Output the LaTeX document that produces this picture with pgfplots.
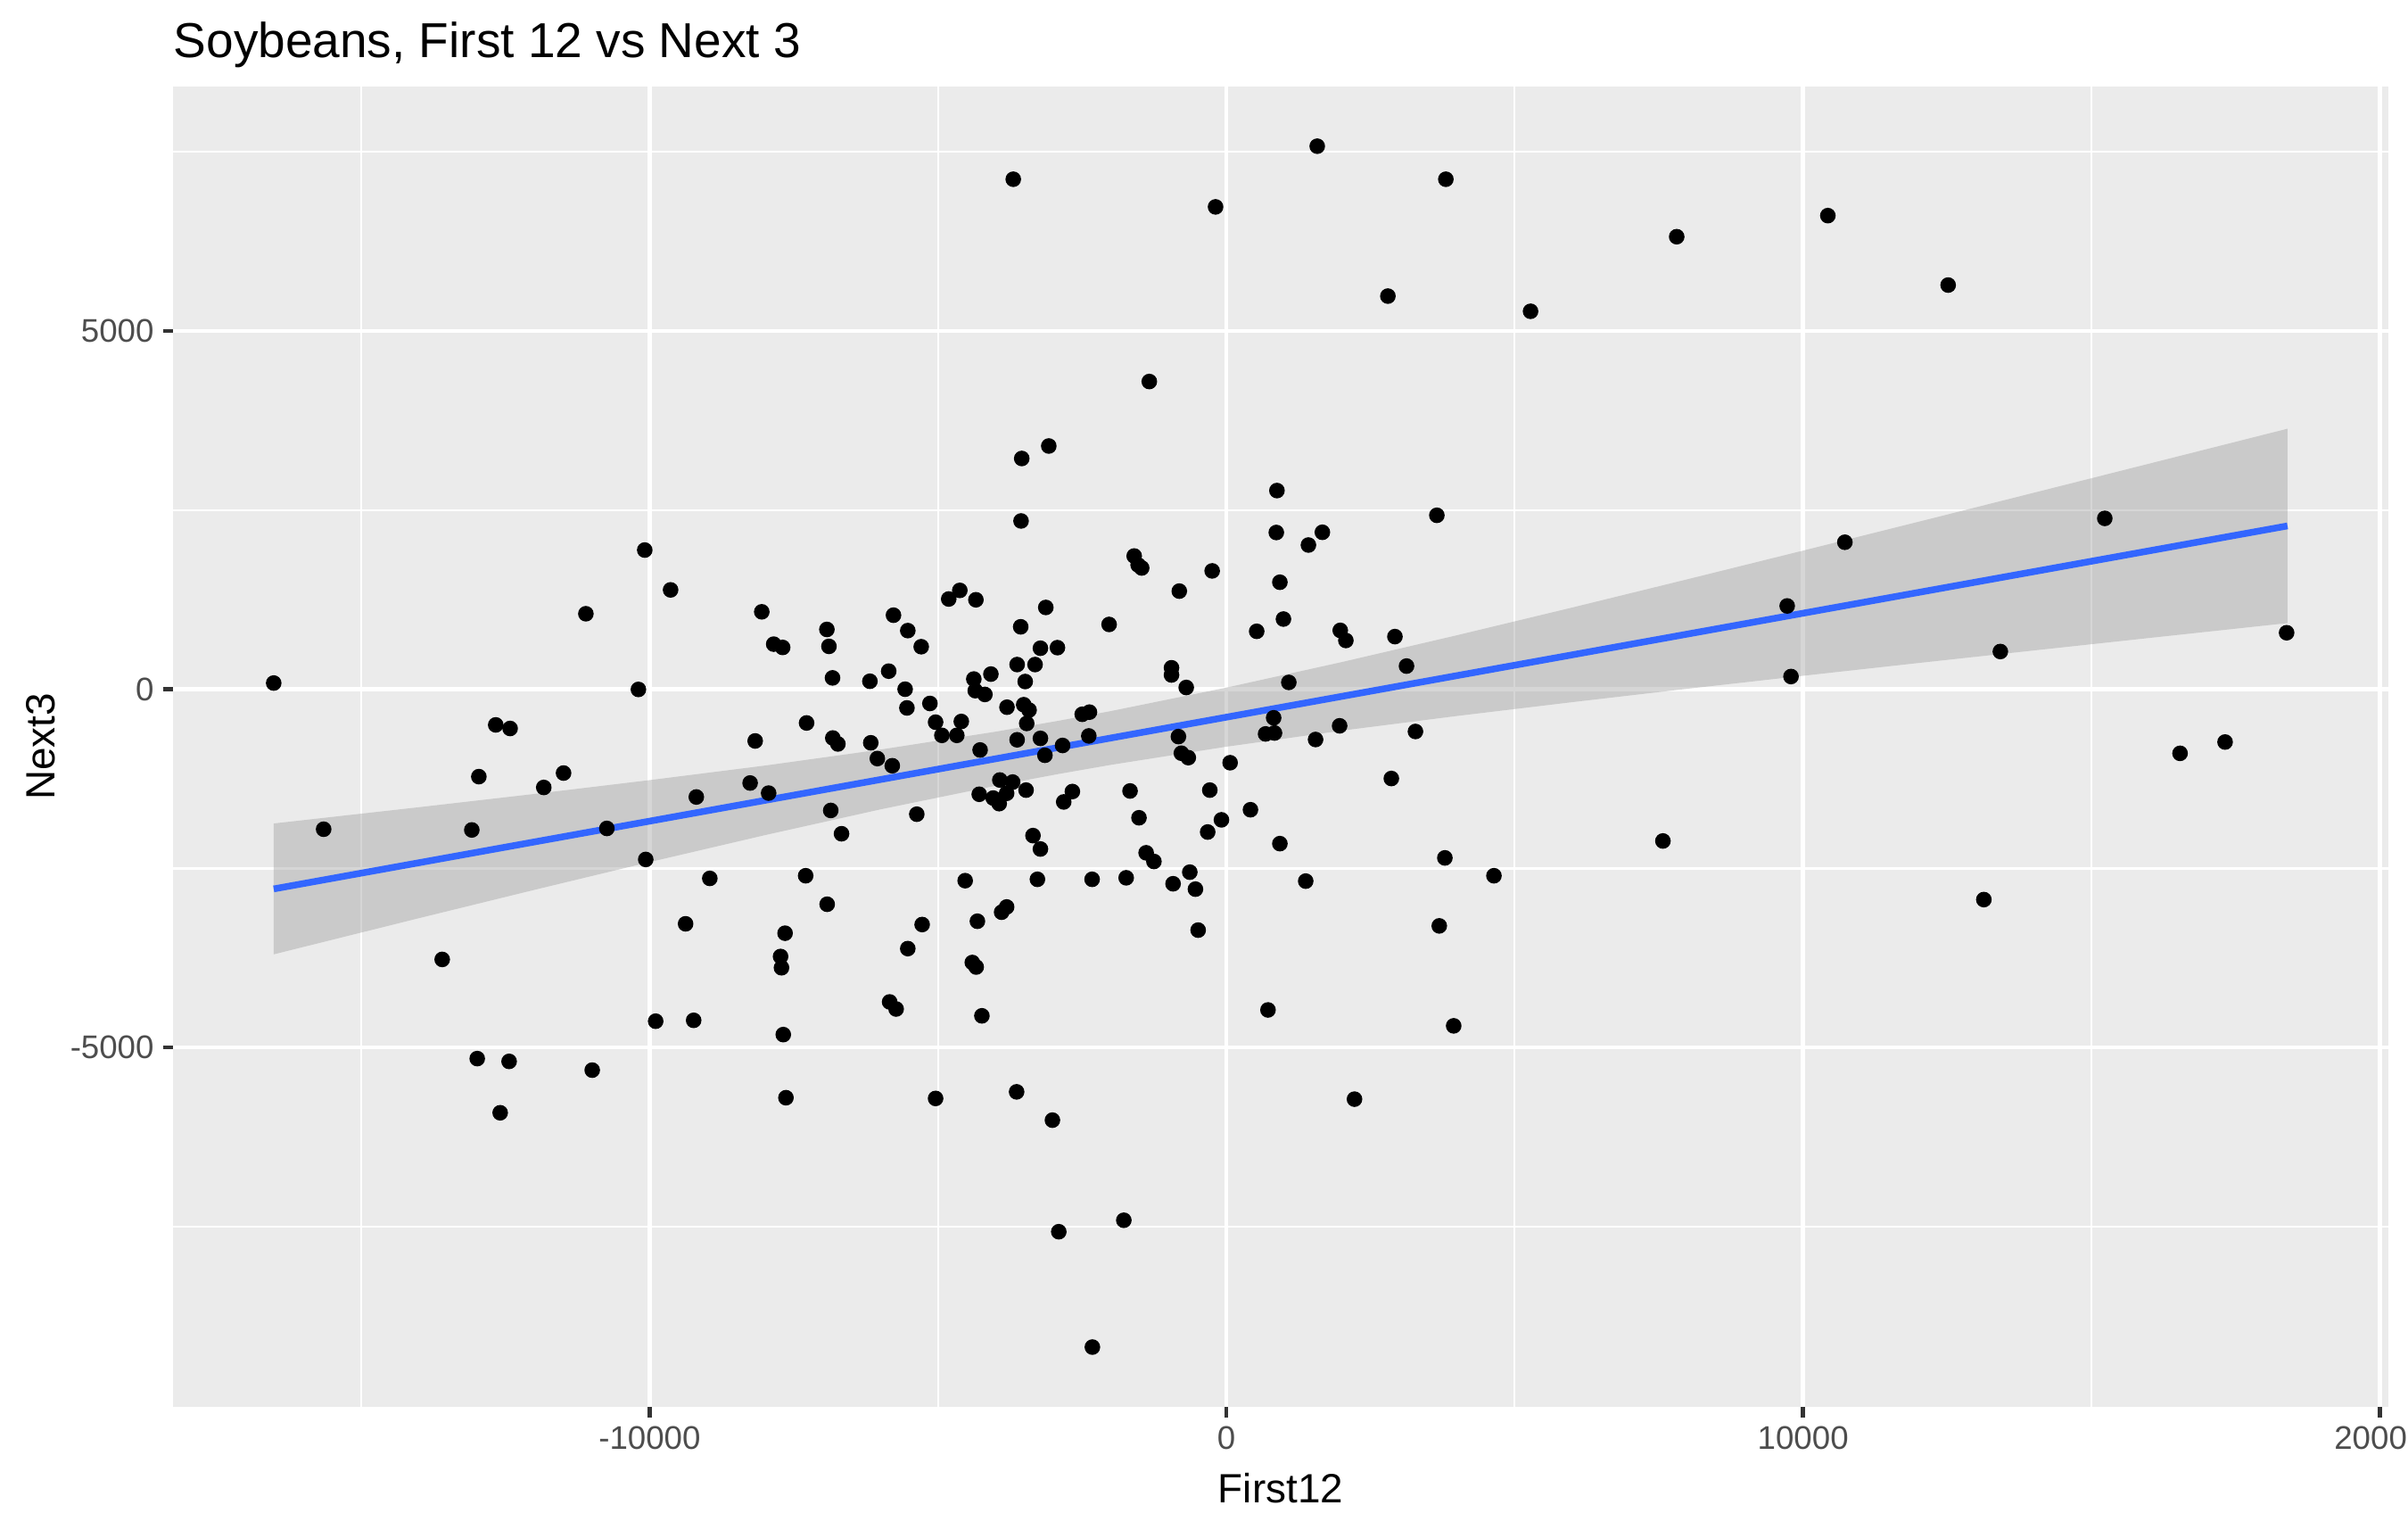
\documentclass[border=0pt]{standalone}
\usepackage{fontspec}
\setmainfont{Liberation Sans}
\usepackage{pgfplots}
\pgfplotsset{compat=1.18}
\pgfplotsset{every axis title shift=0pt}
\definecolor{ggbg}{HTML}{EBEBEB}
\definecolor{tickc}{HTML}{333333}
\definecolor{ticklab}{HTML}{4D4D4D}
\definecolor{ggblue}{HTML}{3366FF}
\definecolor{bandc}{HTML}{999999}
\begin{document}
\begin{tikzpicture}
\begin{axis}[
  scale only axis, width=596.16pt, height=355.37pt,
  at={(0pt,0pt)}, anchor=south west,
  xmin=-18265, xmax=20150, ymin=-10018, ymax=8417,
  axis background/.style={fill=ggbg},
  axis line style={draw=none},
  scaled ticks=false,
  xtick={-10000,0,10000,20000}, xticklabels={-10000,0,10000,20000},
  ytick={-5000,0,5000}, yticklabels={-5000,0,5000},
  minor xtick={-15000,-5000,5000,15000},
  minor ytick={-7500,-2500,2500,7500},
  grid=both,
  major grid style={draw=white, line width=1.07pt},
  minor grid style={draw=white, line width=0.53pt},
  tick align=outside, xtick pos=bottom, ytick pos=left,
  major tick length=2.75pt, minor tick length=0pt,
  tick style={draw=tickc, line width=1.07pt},
  ticklabel style={font=\fontsize{8.8}{10}\selectfont, text=ticklab, inner sep=0pt},
  xticklabel style={anchor=north, yshift=-2.2pt},
  yticklabel style={anchor=east, xshift=-2.2pt},
  title={Soybeans, First 12 vs Next 3},
  title style={at={(axis description cs:0,1.0214)}, anchor=base west, inner sep=0pt, font=\fontsize{13.2}{15}\selectfont},
  xlabel={First12}, ylabel={Next3},
  xlabel style={at={(axis description cs:0.5,-0.0491)}, anchor=north, inner sep=0pt, font=\fontsize{11}{13}\selectfont},
  ylabel style={at={(axis description cs:-0.0532,0.5)}, anchor=base, inner sep=0pt, font=\fontsize{11}{13}\selectfont},
]
% points
\addplot[only marks, mark=*, mark size=1.9pt, mark options={fill=black, draw=none}] coordinates {
(-16519,87) (-15653,-1953) (-13597,-3770) (-13084,-1963) (-12962,-1219) (-12990,-5154)
(-12669,-497) (-12420,-547) (-12592,-5910) (-12437,-5193) (-11836,-1370) (-11493,-1169)
(-11106,1054) (-10996,-5315) (-10742,-1942) (-10195,-2) (-10085,1943) (-10068,-2375)
(-9896,-4632) (-9637,1387)
(-9191,-1503) (-9237,-4620) (-9377,-3273) (-8957,-2639) (-8258,-1308) (-8170,-721)
(-8056,1081) (-7937,-1449) (-7849,630) (-7694,584) (-7652,-3404) (-7730,-3729)
(-7714,-3886) (-7683,-4819) (-7637,-5700) (-7295,-2602) (-7279,-470) (-6927,835)
(-6891,599) (-6829,159) (-6824,-680) (-6736,-763) (-6860,-1691) (-6922,-3000)
(-6673,-2016) (-6181,112) (-6166,-747) (-6052,-967) (-5855,253) (-5772,1034)
(-5839,-4363) (-5726,-4462) (-5793,-1067) (-5570,1) (-5539,-260) (-5524,819)
(-5524,-3619) (-5368,-1743) (-5291,594) (-5275,-3283) (-5140,-198) (-5042,-459)
(-5042,-5710) (-4933,-643) (-4674,-643) (-4596,-449) (-4814,1260) (-4622,1380)
(-4529,-2671) (-4343,1249) (-4379,143) (-4354,-19) (-4405,-3813) (-4338,-3876)
(-4317,-3237) (-4285,-1465) (-4270,-847) (-4239,-4557) (-4187,-72) (-4083,212)
(-4043,-1518) (-3939,-1596) (-3928,-1266) (-3897,-3111) (-3810,-3038) (-3804,-250)
(-1598,1860) (-1530,1735) (-1468,1693) (-246,1652) (-816,1370) (-2033,905)
(-3131,1142) (-3566,872) (-3224,573) (-2929,581) (-3628,345) (-3317,345)
(-3488,108) (-951,300) (-951,200) (-696,25) (-3514,-215) (-3421,-290)
(-3462,-477) (-2499,-349) (-2374,-319) (-2385,-651) (-3628,-705) (-3224,-685)
(-2840,-784) (-3146,-921) (-831,-660) (-780,-892) (-660,-954) (65,-1025)
(-3706,-1295) (-3810,-1452) (-3473,-1407) (-2670,-1427) (-2820,-1572) (-1670,-1419)
(-1515,-1793) (-287,-1407) (-85,-1822) (-324,-1992) (-3353,-2042) (-3224,-2229)
(-1391,-2282) (-1256,-2403) (-3276,-2652) (-2328,-2652) (-1737,-2631) (-634,-2552)
(-924,-2714) (-536,-2789) (-489,-3361)
(877,2773) (3650,2428) (866,2188) (1665,2191) (1423,2013) (928,1494)
(990,980) (526,809) (1975,822) (2072,681) (2923,735) (3124,324)
(1083,96) (820,-398) (680,-623) (835,-610) (1547,-701) (1964,-510)
(3279,-589) (2861,-1245) (418,-1681) (928,-2154) (3789,-2353) (1376,-2677)
(4640,-2602)
(-3695,7118) (-187,6732) (1576,7579) (3806,7118) (2801,5487) (5275,5275)
(-1336,4295) (-3079,3395) (-3548,3221) (-3560,2349)
(3692,-3302) (722,-4475) (3942,-4697) (-3637,-5618) (-3016,-6013) (2222,-5720)
(-1778,-7410) (-2906,-7570) (-2323,-9180)
(7809,6316) (10430,6610) (12516,5641) (10725,2052) (9725,1163) (9791,178)
(15232,2385) (13421,527) (18385,789) (16537,-894) (17318,-736) (7570,-2117)
(13135,-2935)
};
% confidence band
\addplot[draw=none, fill=bandc, fill opacity=0.4] coordinates {
(-16519,-1873) (-14000,-1646) (-12000,-1461) (-10000,-1268) (-8000,-1065)
(-6000,-842) (-4000,-592) (-2905,-439) (-2000,-304) (0,23) (2000,379)
(4000,754) (6000,1141) (8000,1536) (10000,1935) (12000,2337) (14000,2742)
(16000,3148) (18400,3636)
(18400,924) (16000,716) (14000,542) (12000,367) (10000,189) (8000,8)
(6000,-179) (4000,-372) (2000,-577) (0,-801) (-2000,-1054) (-2905,-1181)
(-4000,-1346) (-6000,-1676) (-8000,-2035) (-10000,-2411) (-12000,-2799)
(-14000,-3194) (-16519,-3699)
};
% fitted line
\addplot[ggblue, line width=1.8pt] coordinates {(-16519,-2786) (18400,2280)};
\end{axis}
\pgfresetboundingbox
\path[use as bounding box] (-46.56pt,-33.05pt) rectangle (601.44pt,378.55pt);
\end{tikzpicture}
\end{document}
